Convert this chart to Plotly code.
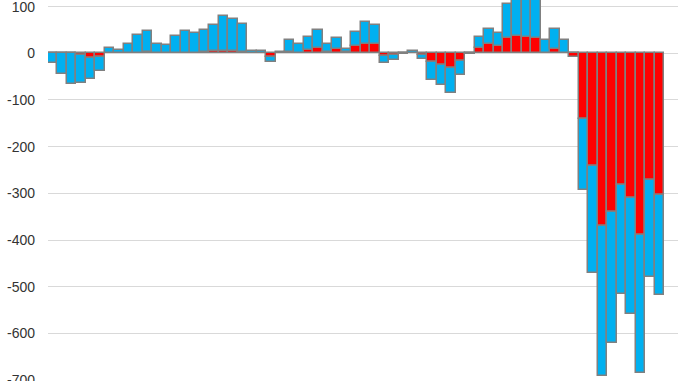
import plotly.graph_objects as go

categories = list(range(1, 66))

totals = [
    -20, -44, -66, -64, -56, -38, 12, 7, 21, 39,
    47, 20, 17, 37, 48, 44, 51, 61, 79, 74,
    63, 4, 4, -18, 3, 29, 21, 34, 49, 20,
    33, 9, 45, 68, 60, -21, -15, -2, 6, -12,
    -57, -68, -86, -47, -2, 34, 52, 44, 106, 130,
    125, 125, 28, 52, 28, -8, -293, -470, -691, -620,
    -516, -559, -684, -479, -518,
]

red_values = [
    0, 0, 0, -3, -11, -8, 0, 0, 0, 0,
    3, 0, 0, 0, 0, 0, 3, 4, 6, 5,
    3, 0, 0, -7, 0, 2, 0, 7, 12, 2,
    9, 3, 15, 21, 20, -5, -4, 0, 0, -4,
    -19, -26, -31, -17, 0, 12, 19, 15, 33, 38,
    35, 33, 0, 9, 0, -8, -141, -241, -369, -341,
    -283, -309, -390, -272, -304,
]

blue_values = [t - r for t, r in zip(totals, red_values)]

y_ticks = [100, 0, -100, -200, -300, -400, -500, -600, -700]

x = list(range(len(categories)))
outline = dict(color="#808080", width=1.5)

fig = go.Figure()
fig.add_trace(go.Bar(x=x, y=red_values, marker=dict(color="#FF0000", line=outline),
                     name="red", showlegend=False))
fig.add_trace(go.Bar(x=x, y=blue_values, marker=dict(color="#00B0F0", line=outline),
                     name="blue", showlegend=False))

fig.update_layout(
    width=678, height=381,
    margin=dict(l=48, r=0, t=0, b=0),
    barmode="relative",
    bargap=0,
    plot_bgcolor="white",
    paper_bgcolor="white",
    font=dict(family="Liberation Sans, Arial, sans-serif", size=14, color="#333333"),
    xaxis=dict(range=[-0.5, 65.96], showticklabels=False, showgrid=False,
               zeroline=False, showline=False, ticks="", automargin=False),
    yaxis=dict(range=[-702, 114.2], tickvals=y_ticks, ticktext=[str(v) for v in y_ticks],
               showgrid=True, gridcolor="#D9D9D9", gridwidth=1,
               zeroline=True, zerolinecolor="#D9D9D9", zerolinewidth=1,
               showline=False, ticks="", ticklabelstandoff=12,
               ticklabeloverflow="allow", automargin=False),
)

fig.write_html("out.html")
